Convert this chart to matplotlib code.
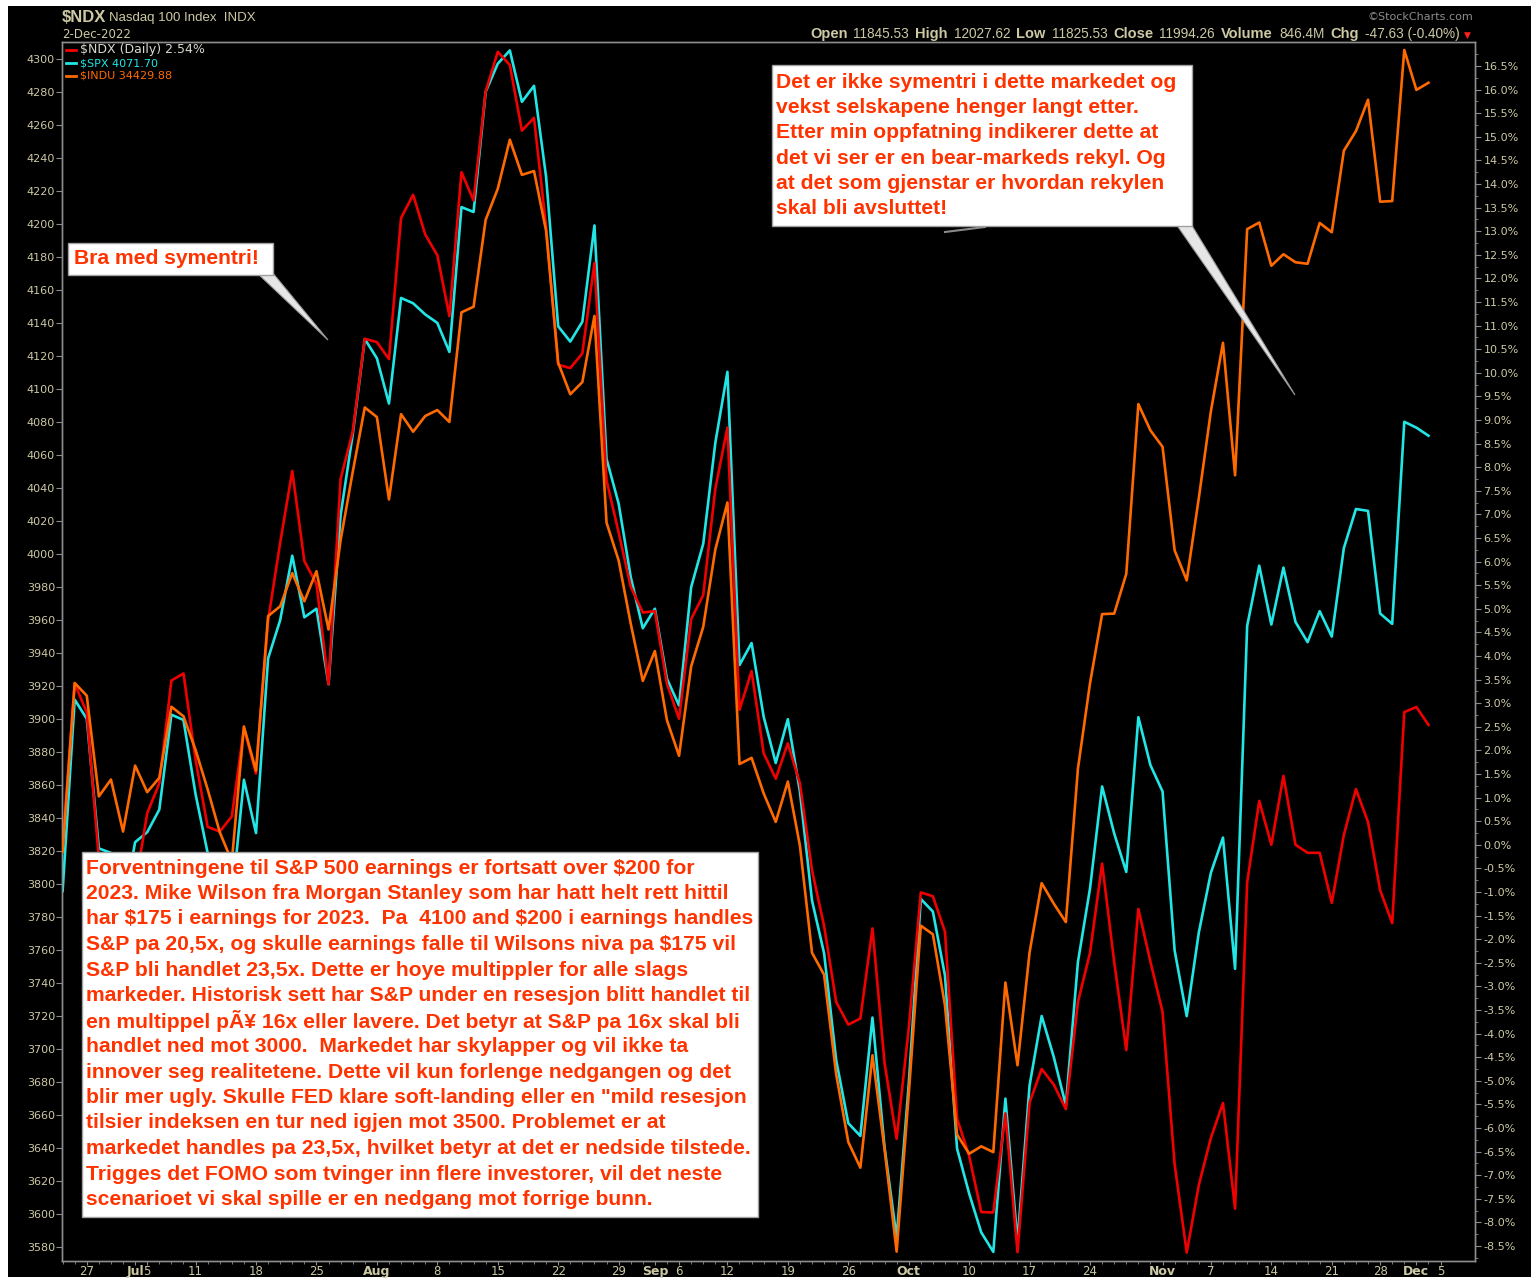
import matplotlib
matplotlib.use('Agg')
import matplotlib.pyplot as plt
from matplotlib.patches import Rectangle, Polygon
from matplotlib.lines import Line2D

W, H = 1536, 1279

dates = [
    '2022-06-23', '2022-06-24', '2022-06-27', '2022-06-28', '2022-06-29', '2022-06-30',
    '2022-07-01', '2022-07-05', '2022-07-06', '2022-07-07', '2022-07-08', '2022-07-11',
    '2022-07-12', '2022-07-13', '2022-07-14', '2022-07-15', '2022-07-18', '2022-07-19',
    '2022-07-20', '2022-07-21', '2022-07-22', '2022-07-25', '2022-07-26', '2022-07-27',
    '2022-07-28', '2022-07-29', '2022-08-01', '2022-08-02', '2022-08-03', '2022-08-04',
    '2022-08-05', '2022-08-08', '2022-08-09', '2022-08-10', '2022-08-11', '2022-08-12',
    '2022-08-15', '2022-08-16', '2022-08-17', '2022-08-18', '2022-08-19', '2022-08-22',
    '2022-08-23', '2022-08-24', '2022-08-25', '2022-08-26', '2022-08-29', '2022-08-30',
    '2022-08-31', '2022-09-01', '2022-09-02', '2022-09-06', '2022-09-07', '2022-09-08',
    '2022-09-09', '2022-09-12', '2022-09-13', '2022-09-14', '2022-09-15', '2022-09-16',
    '2022-09-19', '2022-09-20', '2022-09-21', '2022-09-22', '2022-09-23', '2022-09-26',
    '2022-09-27', '2022-09-28', '2022-09-29', '2022-09-30', '2022-10-03', '2022-10-04',
    '2022-10-05', '2022-10-06', '2022-10-07', '2022-10-10', '2022-10-11', '2022-10-12',
    '2022-10-13', '2022-10-14', '2022-10-17', '2022-10-18', '2022-10-19', '2022-10-20',
    '2022-10-21', '2022-10-24', '2022-10-25', '2022-10-26', '2022-10-27', '2022-10-28',
    '2022-10-31', '2022-11-01', '2022-11-02', '2022-11-03', '2022-11-04', '2022-11-07',
    '2022-11-08', '2022-11-09', '2022-11-10', '2022-11-11', '2022-11-14', '2022-11-15',
    '2022-11-16', '2022-11-17', '2022-11-18', '2022-11-21', '2022-11-22', '2022-11-23',
    '2022-11-25', '2022-11-28', '2022-11-29', '2022-11-30', '2022-12-01', '2022-12-02',
]

# $SPX close (left axis)
spx = [
    3795.73, 3911.74, 3900.11, 3821.55, 3818.83, 3785.38, 3825.33, 3831.39, 3845.08,
    3902.62, 3899.38, 3854.43, 3818.80, 3801.78, 3790.38, 3863.16, 3830.85, 3936.69,
    3959.90, 3998.95, 3961.63, 3966.84, 3921.05, 4023.61, 4072.43, 4130.29, 4118.63,
    4091.19, 4155.17, 4151.94, 4145.19, 4140.06, 4122.47, 4210.24, 4207.27, 4280.15,
    4297.14, 4305.20, 4274.04, 4283.74, 4228.48, 4137.99, 4128.73, 4140.77, 4199.12,
    4057.66, 4030.61, 3986.16, 3955.00, 3966.85, 3924.26, 3908.19, 3979.87, 4006.18,
    4067.36, 4110.41, 3932.69, 3946.01, 3901.35, 3873.33, 3899.89, 3855.93, 3789.93,
    3757.99, 3693.23, 3655.04, 3647.29, 3719.04, 3640.47, 3585.62, 3678.43, 3790.93,
    3783.28, 3744.52, 3639.66, 3612.39, 3588.84, 3577.03, 3669.91, 3583.07, 3677.95,
    3719.98, 3695.16, 3665.78, 3752.75, 3797.34, 3859.11, 3830.60, 3807.30, 3901.06,
    3871.98, 3856.10, 3759.69, 3719.89, 3770.55, 3806.80, 3828.11, 3748.57, 3956.37,
    3992.93, 3957.25, 3991.73, 3958.79, 3946.56, 3965.34, 3949.94, 4003.58, 4027.26,
    4026.12, 3963.94, 3957.63, 4080.11, 4076.57, 4071.70,
]

# $NDX performance in % (right axis)
ndx_pct = [
    0.0, 3.42, 2.8, -0.3, -0.2, -1.5, -0.9, 0.67, 1.3, 3.48, 3.63, 1.8, 0.38, 0.28,
    0.6, 2.47, 1.51, 4.75, 6.4, 7.92, 6.01, 5.53, 3.4, 7.75, 8.75, 10.72, 10.65,
    10.29, 13.28, 13.77, 12.93, 12.49, 11.2, 14.25, 13.65, 15.96, 16.8, 16.52, 15.13,
    15.4, 13.1, 10.17, 10.1, 10.41, 12.33, 7.72, 6.62, 5.47, 4.92, 4.95, 3.41, 2.67,
    4.78, 5.29, 7.54, 8.84, 2.86, 3.68, 1.94, 1.4, 2.15, 1.3, -0.54, -1.72, -3.33,
    -3.81, -3.68, -1.77, -4.62, -6.23, -3.9, -1.01, -1.09, -1.84, -5.8, -6.59, -7.78,
    -7.79, -5.69, -8.63, -5.46, -4.75, -5.08, -5.6, -3.33, -2.29, -0.4, -2.48, -4.35,
    -1.36, -2.48, -3.54, -6.77, -8.64, -7.21, -6.21, -5.47, -7.71, -0.8, 0.93, 0.0,
    1.46, 0.0, -0.17, -0.17, -1.23, 0.21, 1.18, 0.48, -0.96, -1.66, 2.81, 2.92, 2.54,
]

# $INDU close (own hidden scale)
indu = [
    30677.36, 31500.68, 31438.26, 30946.99, 31029.31, 30775.43, 31097.26, 30967.82,
    31037.68, 31384.55, 31338.15, 31173.84, 30981.33, 30772.79, 30630.17, 31288.26,
    31072.61, 31827.05, 31874.84, 32036.90, 31899.29, 32045.89, 31761.54, 32197.59,
    32529.63, 32845.13, 32798.40, 32396.17, 32812.50, 32726.82, 32803.47, 32832.54,
    32774.41, 33309.51, 33336.67, 33761.05, 33912.44, 34152.01, 33980.32, 33999.04,
    33706.74, 33063.61, 32909.59, 32969.23, 33291.78, 32283.40, 32098.99, 31790.87,
    31510.43, 31656.42, 31318.44, 31145.30, 31581.28, 31774.52, 32151.71, 32381.34,
    31104.97, 31135.09, 30961.82, 30822.42, 31019.68, 30706.23, 30183.78, 30076.68,
    29590.41, 29260.81, 29134.99, 29683.74, 29225.61, 28725.51, 29490.89, 30316.32,
    30273.87, 29926.94, 29296.79, 29202.88, 29239.19, 29210.85, 30038.72, 29634.83,
    30185.82, 30523.80, 30423.81, 30333.59, 31082.56, 31499.62, 31836.74, 31839.11,
    32033.28, 32861.80, 32732.95, 32653.20, 32147.76, 32001.25, 32403.22, 32827.00,
    33160.83, 32513.94, 33715.37, 33747.86, 33536.70, 33592.92, 33553.83, 33546.32,
    33745.69, 33700.28, 34098.10, 34194.06, 34347.03, 33849.46, 33852.53, 34589.77,
    34395.01, 34429.88,
]

x_tick_dates = ['2022-06-27', '2022-07-01', '2022-07-05', '2022-07-11', '2022-07-18',
                '2022-07-25', '2022-08-01', '2022-08-08', '2022-08-15', '2022-08-22',
                '2022-08-29', '2022-09-01', '2022-09-06', '2022-09-12', '2022-09-19',
                '2022-09-26', '2022-10-03', '2022-10-10', '2022-10-17', '2022-10-24',
                '2022-11-01', '2022-11-07', '2022-11-14', '2022-11-21', '2022-11-28',
                '2022-12-01', '2022-12-05']
x_tick_labels = ['27', 'Jul', '5', '11', '18', '25', 'Aug', '8', '15', '22', '29',
                 'Sep', '6', '12', '19', '26', 'Oct', '10', '17', '24', 'Nov', '7',
                 '14', '21', '28', 'Dec', '5']
month_labels = ['Jul', 'Aug', 'Sep', 'Oct', 'Nov', 'Dec']

box_note_1 = 'Bra med symentri!'
box_note_2 = [
    'Det er ikke symentri i dette markedet og',
    'vekst selskapene henger langt etter.',
    'Etter min oppfatning indikerer dette at',
    'det vi ser er en bear-markeds rekyl. Og',
    'at det som gjenstar er hvordan rekylen',
    'skal bli avsluttet!',
]
box_note_3 = [
    'Forventningene til S&P 500 earnings er fortsatt over \\$200 for',
    '2023. Mike Wilson fra Morgan Stanley som har hatt helt rett hittil',
    'har \\$175 i earnings for 2023.  Pa  4100 and \\$200 i earnings handles',
    'S&P pa 20,5x, og skulle earnings falle til Wilsons niva pa \\$175 vil',
    'S&P bli handlet 23,5x. Dette er hoye multippler for alle slags',
    'markeder. Historisk sett har S&P under en resesjon blitt handlet til',
    'en multippel pÃ¥ 16x eller lavere. Det betyr at S&P pa 16x skal bli',
    'handlet ned mot 3000.  Markedet har skylapper og vil ikke ta',
    'innover seg realitetene. Dette vil kun forlenge nedgangen og det',
    'blir mer ugly. Skulle FED klare soft-landing eller en "mild resesjon',
    'tilsier indeksen en tur ned igjen mot 3500. Problemet er at',
    'markedet handles pa 23,5x, hvilket betyr at det er nedside tilstede.',
    'Trigges det FOMO som tvinger inn flere investorer, vil det neste',
    'scenarioet vi skal spille er en nedgang mot forrige bunn.',
]

RED = '#f00000'
CYAN = '#22e5e5'
ORANGE = '#ff6a00'
TAN = '#cdc9a5'
NOTE = '#ff3300'
NOTE_SIZE = 15.2


def fx(px):
    return px / W


def fy(py):
    return 1 - py / H


fig = plt.figure(figsize=(W / 100, H / 100), dpi=100, facecolor='white')

# black chart background
fig.patches.append(Rectangle((fx(8), fy(1277)), fx(1531) - fx(8), fy(6) - fy(1277),
                             transform=fig.transFigure, fc='black', ec='none',
                             zorder=-10))

ax = fig.add_axes([fx(62), fy(1261), fx(1475) - fx(62), fy(42) - fy(1261)])
ax.set_facecolor('black')
ax_r = ax.twinx()
ax_o = ax.twinx()

x = list(range(len(dates)))
ax.plot(x, spx, color=CYAN, lw=1.9, zorder=3)
ax_r.plot(x, ndx_pct, color=RED, lw=1.9)
ax_o.plot(x, indu, color=ORANGE, lw=1.9)

ax.set_xlim(-0.05, 116.85)
ax.set_ylim(3571.5, 4310.3)
ax_r.set_ylim(-8.818, 17.008)
ax_o.set_ylim(28679.6, 34628.8)
ax_o.axis('off')

for a in (ax, ax_r):
    for s in a.spines.values():
        s.set_color('#8c8c8c')
        s.set_linewidth(1.0)

tick_idx = [dates.index(d) if d in dates else len(dates) for d in x_tick_dates]
ax.set_xticks(tick_idx)
ax.set_xticklabels(x_tick_labels)
ax.set_xticks(x, minor=True)
for lab in ax.get_xticklabels():
    lab.set_fontweight('bold' if lab.get_text() in month_labels else 'normal')
    lab.set_fontsize(9 if lab.get_text() in month_labels else 8.5)
ax.tick_params(axis='x', which='major', colors='#8c8c8c', labelcolor=TAN, length=3,
               pad=0)
ax.tick_params(axis='x', which='minor', colors='#8c8c8c', length=2)

ax.set_yticks(range(3580, 4301, 20))
ax.tick_params(axis='y', colors='#8c8c8c', labelcolor=TAN, labelsize=8, length=4, pad=1)

r_ticks = [v / 2 for v in range(-17, 34)]
ax_r.set_yticks(r_ticks)
ax_r.set_yticklabels([f'{v:.1f}%' for v in r_ticks])
ax_r.set_yticks([v / 4 for v in range(-35, 68)], minor=True)
ax_r.tick_params(axis='y', which='major', colors='#8c8c8c', labelcolor=TAN,
                 labelsize=8, length=4, pad=2)
ax_r.tick_params(axis='y', which='minor', colors='#8c8c8c', length=2)

# header
fig.text(fx(62), fy(17), '\\$NDX', color=TAN, fontsize=12, fontweight='bold',
         va='center', family='Liberation Sans')
fig.text(fx(109), fy(18), 'Nasdaq 100 Index  INDX', color=TAN, fontsize=9.5,
         va='center', family='Liberation Sans')
fig.text(fx(62), fy(34), '2-Dec-2022', color=TAN, fontsize=8.5, va='center')
fig.text(fx(1473), fy(17), '\u00a9StockCharts.com', color='#8c8c8c', fontsize=8,
         ha='right', va='center')

info_parts = [('Open', True), ('11845.53', False), ('High', True), ('12027.62', False),
              ('Low', True), ('11825.53', False), ('Close', True), ('11994.26', False),
              ('Volume', True), ('846.4M', False), ('Chg', True),
              ('-47.63 (-0.40%)', False)]
fig.canvas.draw()
renderer = fig.canvas.get_renderer()
xpos = 810
for txt, bold in info_parts:
    t = fig.text(fx(xpos), fy(34), txt, color=TAN, va='center',
                 fontsize=10.5 if bold else 9.8,
                 fontweight='bold' if bold else 'normal',
                 family='Liberation Sans')
    xpos += t.get_window_extent(renderer).width + 6
fig.text(fx(xpos - 2), fy(35), '\u25bc', color='#ff2020', fontsize=6.5, va='center')

# legend
leg_items = [(RED, '\\$NDX (Daily) 2.54%', '#d8d8d0', 9),
             (CYAN, '\\$SPX 4071.70', CYAN, 8),
             (ORANGE, '\\$INDU 34429.88', ORANGE, 8)]
for k, (lc, txt, tc, fs) in enumerate(leg_items):
    yy = 50 + 13 * k
    fig.lines.append(Line2D([fx(66), fx(76)], [fy(yy), fy(yy)], color=lc, lw=2,
                            transform=fig.transFigure))
    fig.text(fx(80), fy(yy), txt, color=tc, fontsize=fs, va='center')


# note boxes
def note_box(x0, y0, x1, y1):
    fig.patches.append(Rectangle((fx(x0), fy(y1)), fx(x1) - fx(x0), fy(y0) - fy(y1),
                                 transform=fig.transFigure, fc='white',
                                 ec='#a0a0a0', lw=1, zorder=5))


def pointer(pts):
    fig.patches.append(Polygon([(fx(a), fy(b)) for a, b in pts], closed=True,
                               transform=fig.transFigure, fc='#e6e6e6',
                               ec='#9a9a9a', lw=0.8, zorder=5))


pointer([(256, 272), (272, 272), (328, 340)])
note_box(68, 243, 273, 275)
fig.text(fx(74), fy(259), box_note_1, color=NOTE, fontsize=NOTE_SIZE, fontweight='bold',
         family='Liberation Sans', va='center', zorder=6)

pointer([(1176, 224), (1191, 224), (1295, 395)])
fig.lines.append(Line2D([fx(945), fx(985)], [fy(232), fy(227)], color='#8a8a8a',
                        lw=1.5, transform=fig.transFigure))
note_box(772, 65, 1192, 226)
for k, line in enumerate(box_note_2):
    fig.text(fx(776), fy(82 + 25.4 * k), line, color=NOTE, fontsize=NOTE_SIZE,
             fontweight='bold', family='Liberation Sans', va='center', zorder=6)

note_box(82, 852, 758, 1217)
for k, line in enumerate(box_note_3):
    fig.text(fx(86), fy(868 + 25.5 * k), line, color=NOTE, fontsize=NOTE_SIZE,
             fontweight='bold', family='Liberation Sans', va='center', zorder=6)

fig.savefig('out.png', dpi=100, facecolor='white')
plt.close(fig)
